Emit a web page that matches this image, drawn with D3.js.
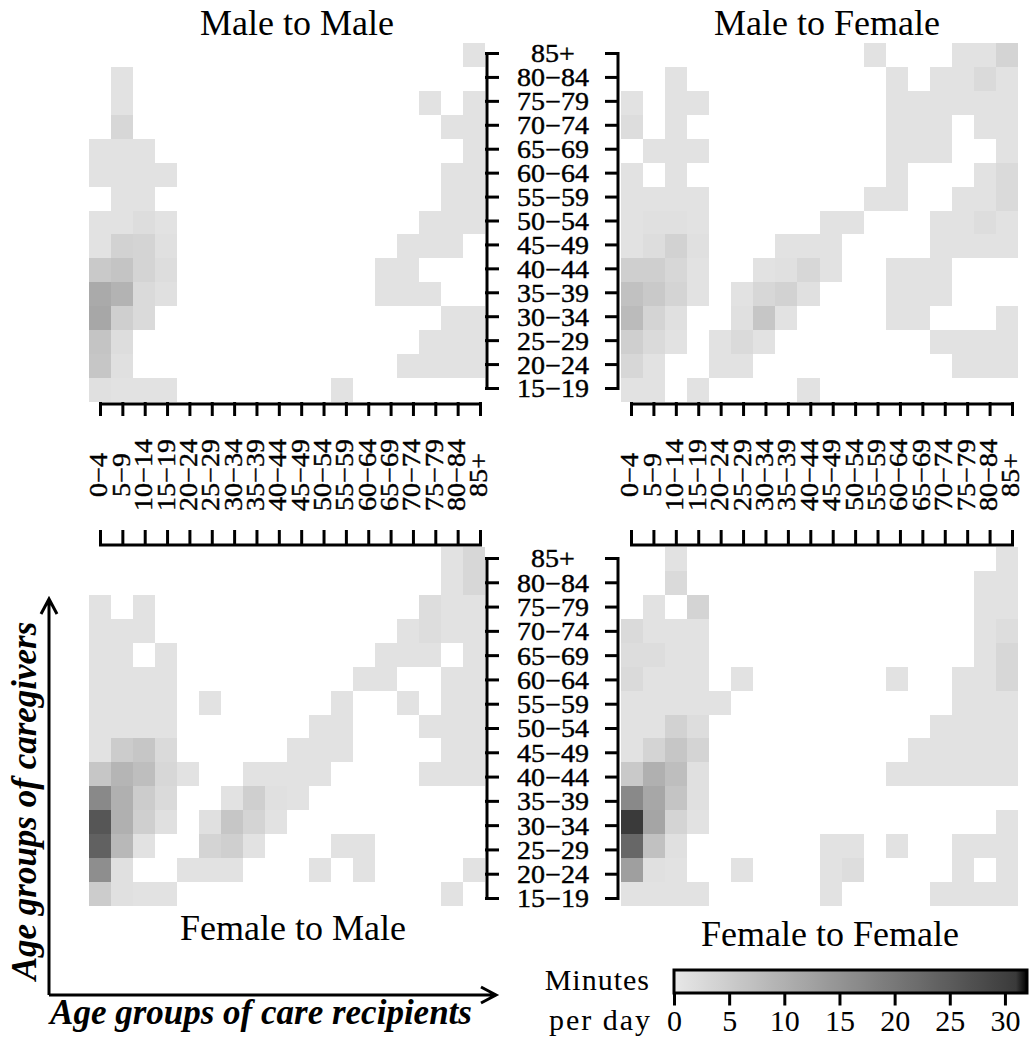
<!DOCTYPE html>
<html>
<head>
<meta charset="utf-8">
<script src="https://cdn.jsdelivr.net/npm/d3@7"></script>
<style>
body { margin:0; background:#fff; }
svg text { font-family: "Liberation Serif", "Times New Roman", serif; }
.axis path, .axis line { stroke:#000; stroke-width:3; stroke-linecap:square; }
.tick-label { stroke:#000; stroke-width:0.4; }
</style>
</head>
<body>
<svg id="chart" width="1030" height="1040"></svg>
<script>
// age groups of care recipients (x) and caregivers (y, top row first)
var recipients = ["0−4","5−9","10−14","15−19","20−24","25−29","30−34","35−39","40−44",
                  "45−49","50−54","55−59","60−64","65−69","70−74","75−79","80−84","85+"];
var caregivers = ["85+","80−84","75−79","70−74","65−69","60−64","55−59","50−54",
                  "45−49","40−44","35−39","30−34","25−29","20−24","15−19"];
var legendTicks = [0,5,10,15,20,25,30];

// minutes per day, rows = caregivers (85+ first), columns = recipients
var maleToMale = [
 [0,0,0,0,0,0,0,0,0,0,0,0,0,0,0,0,0,1],
 [0,1,0,0,0,0,0,0,0,0,0,0,0,0,0,0,0,0],
 [0,1,0,0,0,0,0,0,0,0,0,0,0,0,0,1,0,1],
 [0,3,0,0,0,0,0,0,0,0,0,0,0,0,0,0,1,1],
 [1,1,1,0,0,0,0,0,0,0,0,0,0,0,0,0,0,1],
 [1,1,1,1,0,0,0,0,0,0,0,0,0,0,0,0,1,1],
 [0,1,1,0,0,0,0,0,0,0,0,0,0,0,0,0,1,1],
 [1,1,2,1,0,0,0,0,0,0,0,0,0,0,0,1,1,1],
 [1,4,3.5,1.5,0,0,0,0,0,0,0,0,0,0,1,1,1,0],
 [5.5,6.5,3.5,2,0,0,0,0,0,0,0,0,0,1,1,0,0,0],
 [11,9.5,2.5,1.5,0,0,0,0,0,0,0,0,0,1,1,1,0,0],
 [11.5,4.5,2.5,0,0,0,0,0,0,0,0,0,0,0,0,0,1,1],
 [6.5,2,0,0,0,0,0,0,0,0,0,0,0,0,0,1,1,1],
 [6,1.5,0,0,0,0,0,0,0,0,0,0,0,0,1,1,1,1],
 [1.5,1,1,1,0,0,0,0,0,0,0,1,0,0,0,0,0,0]
];
var maleToFemale = [
 [0,0,0,0,0,0,0,0,0,0,0,1,0,0,0,1,1,3.5],
 [0,0,1,0,0,0,0,0,0,0,0,0,1,0,1,1,2.5,1],
 [1,0,1,1,0,0,0,0,0,0,0,0,1,1,1,1,1,1],
 [2,0,1,0,0,0,0,0,0,0,0,0,1,1,1,0,1,1],
 [0,1,1,1,0,0,0,0,0,0,0,0,1,1,1,0,0,1],
 [1,0,1,0,0,0,0,0,0,0,0,0,1,0,0,0,1,2.5],
 [1,1,1,1,0,0,0,0,0,0,0,1,1,0,0,1,1,2.5],
 [1,1.5,1.5,1,0,0,0,0,0,1,1,0,0,0,1,1,2,1],
 [1,2,4,1.5,0,0,0,1,1,1,0,0,0,0,1,1,1,1],
 [4.5,4.5,3,1,0,0,1,1.5,3,1,0,0,1,1,1,0,0,0],
 [7,5.5,3.5,1,0,1,3,4,1.5,0,0,0,1,1,1,0,0,0],
 [8,3.5,1.5,0,0,1.5,6,1,0,0,0,0,1,1,0,0,0,1],
 [4.5,2.5,1,0,1,2.5,1,0,0,0,0,0,0,0,1,1,1,1],
 [3,1,0,0,1,1,0,0,0,0,0,0,0,0,0,1,1,1],
 [1,1,0,1,0,0,0,0,1,0,0,0,0,0,0,0,0,0]
];
var femaleToMale = [
 [0,0,0,0,0,0,0,0,0,0,0,0,0,0,0,0,1,3],
 [0,0,0,0,0,0,0,0,0,0,0,0,0,0,0,0,1,3],
 [1,0,1,0,0,0,0,0,0,0,0,0,0,0,0,2,1,1],
 [1,1,1,0,0,0,0,0,0,0,0,0,0,0,1,2,1,1],
 [1,1,0,1,0,0,0,0,0,0,0,0,0,1,1,1,0,1],
 [1,1,1,1,0,0,0,0,0,0,0,0,1,1,0,0,1,1],
 [1,1,1,1,0,1,0,0,0,0,0,1,0,0,1,0,1,1],
 [1,1,1,1,0,0,0,0,0,0,1,1,0,0,0,1,1,1],
 [1,5,6,2.5,0,0,0,0,0,1,1,1,0,0,0,0,1,1],
 [6,9,7.5,3,1,0,0,1,1,1,1,0,0,0,0,1,1,1],
 [17,10,5,2.5,0,0,1,4.5,1.5,1,0,0,0,0,0,0,0,0],
 [26,10,4.5,1.5,0,1.5,6,3.5,1,0,0,0,0,0,0,0,0,0],
 [24,8.5,1,0,0,3.5,4.5,1,0,0,0,1,1,0,0,0,0,0],
 [16,1.5,0,0,1,1,1,0,0,0,1,0,1,0,0,0,0,1],
 [5,1.5,1,1,0,0,0,0,0,0,0,0,0,0,0,0,1,0]
];
var femaleToFemale = [
 [0,0,1,0,0,0,0,0,0,0,0,0,0,0,0,0,0,1],
 [0,0,2.5,0,0,0,0,0,0,0,0,0,0,0,0,0,1,1],
 [0,1,0,3.5,0,0,0,0,0,0,0,0,0,0,0,0,1,1],
 [2.5,1,1,1,0,0,0,0,0,0,0,0,0,0,0,0,1,2],
 [2,2,1,1,0,0,0,0,0,0,0,0,0,0,0,0,1,3],
 [2.5,1,1,1,0,1,0,0,0,0,0,0,1,0,0,1,1,3],
 [1,1,1,1,1,0,0,0,0,0,0,0,0,0,0,1,1,1],
 [1,1,4,2,0,0,0,0,0,0,0,0,0,0,1,1,1,1],
 [1,3.5,6,3.5,0,0,0,0,0,0,0,0,0,1,1,1,1,1],
 [5.5,10,7.5,1.5,0,0,0,0,0,0,0,0,1,1,1,1,1,1],
 [17,11.5,6.5,1.5,0,0,0,0,0,0,0,0,0,0,0,0,0,0],
 [31,12,3.5,1,0,0,0,0,0,0,0,0,0,0,0,0,0,1],
 [23,7,1.5,0,0,0,0,0,0,1,1,0,1,0,0,1,1,1],
 [13,1.5,1,0,0,1,0,0,0,1,2,0,0,0,0,1,0,1],
 [1,1,1,1,0,0,0,0,0,1,0,0,0,0,1,1,1,1]
];

var serif = "'Liberation Serif', 'Times New Roman', serif";
var svg = d3.select("#chart");

var color = d3.scaleLinear()
    .domain([0, 31, 32])
    .range(["#e8e8e8", "#3a3a3a", "#000000"]);

// cell scales
var xLeft = d3.scaleBand().domain(recipients).range([89, 485]);
var xRight = d3.scaleBand().domain(recipients).range([621, 1018]);
var yTop = d3.scaleBand().domain(caregivers).range([43, 402]);
var yBottom = d3.scaleBand().domain(caregivers).range([547, 906]);

// tick scales (the axes sit a little off the cells, as in the original)
var xTickLeft = d3.scalePoint().domain(recipients).range([100, 480]);
var xTickRight = d3.scalePoint().domain(recipients).range([631, 1012]);
var yTickTop = d3.scalePoint().domain(caregivers).range([53, 388]);
var yTickBottom = d3.scalePoint().domain(caregivers).range([558, 898]);

var drawPanel = function(values, xScale, yScale)
{
    var cells = [];
    values.forEach(function(row, i) {
        row.forEach(function(v, j) {
            if (v > 0) cells.push({r: caregivers[i], c: recipients[j], v: v});
        });
    });
    svg.append("g")
    .selectAll("rect")
    .data(cells)
    .enter()
    .append("rect")
    .attr("x", function(d) { return xScale(d.c); })
    .attr("y", function(d) { return yScale(d.r); })
    .attr("width", xScale.bandwidth())
    .attr("height", yScale.bandwidth())
    .attr("fill", function(d) { return color(d.v); })
    .attr("shape-rendering", "crispEdges");
}

drawPanel(maleToMale, xLeft, yTop);
drawPanel(maleToFemale, xRight, yTop);
drawPanel(femaleToMale, xLeft, yBottom);
drawPanel(femaleToFemale, xRight, yBottom);

var addAxis = function(axis, x, y)
{
    svg.append("g")
    .classed("axis", true)
    .attr("transform", "translate(" + x + "," + y + ")")
    .call(axis.tickSizeOuter(0).tickFormat(""));
}

addAxis(d3.axisBottom(xTickLeft).tickSize(11), 0, 403.5);
addAxis(d3.axisBottom(xTickRight).tickSize(11), 0, 403.5);
addAxis(d3.axisTop(xTickLeft).tickSize(13), 0, 544.5);
addAxis(d3.axisTop(xTickRight).tickSize(13), 0, 544.5);
addAxis(d3.axisRight(yTickTop).tickSize(11), 486.5, 0);
addAxis(d3.axisLeft(yTickTop).tickSize(11), 617.5, 0);
addAxis(d3.axisRight(yTickBottom).tickSize(11), 486.5, 0);
addAxis(d3.axisLeft(yTickBottom).tickSize(11), 617.5, 0);

// shared tick labels in the middle strips
[xTickLeft, xTickRight].forEach(function(sc) {
    svg.append("g")
    .selectAll("text")
    .data(recipients)
    .enter()
    .append("text")
    .classed("tick-label", true)
    .text(function(d) { return d; })
    .attr("transform", function(d) {
        return "translate(" + (sc(d) - 1) + ",475) rotate(-90) scale(1.12,1)";
    })
    .attr("text-anchor", "middle")
    .attr("dominant-baseline", "central")
    .attr("font-family", serif)
    .attr("font-size", 25);
});

[yTickTop, yTickBottom].forEach(function(sc) {
    svg.append("g")
    .selectAll("text")
    .data(caregivers)
    .enter()
    .append("text")
    .classed("tick-label", true)
    .text(function(d) { return d; })
    .attr("transform", function(d) {
        return "translate(553," + (sc(d) + 1) + ") scale(1.12,1)";
    })
    .attr("text-anchor", "middle")
    .attr("dominant-baseline", "central")
    .attr("font-family", serif)
    .attr("font-size", 25);
});

// panel titles
var titles = [
    {t: "Male to Male", x: 297, y: 35},
    {t: "Male to Female", x: 827, y: 35},
    {t: "Female to Male", x: 293, y: 940},
    {t: "Female to Female", x: 830, y: 946}
];
svg.append("g")
.selectAll("text")
.data(titles)
.enter()
.append("text")
.text(function(d) { return d.t; })
.attr("x", function(d) { return d.x; })
.attr("y", function(d) { return d.y; })
.attr("text-anchor", "middle")
.attr("font-family", serif)
.attr("font-size", 36);

// corner arrows with axis names
var arrows = svg.append("g")
    .attr("fill", "none")
    .attr("stroke", "#000")
    .attr("stroke-width", 3);
arrows.append("path").attr("d", "M49,995V599M41,614L49,599L57,614");
arrows.append("path").attr("d", "M49,995H496M481,987L496,995L481,1003");

svg.append("text")
.text("Age groups of caregivers")
.attr("transform", "translate(36,801) rotate(-90)")
.attr("text-anchor", "middle")
.attr("font-family", serif)
.attr("font-size", 35)
.attr("font-weight", "bold")
.attr("font-style", "italic");

svg.append("text")
.text("Age groups of care recipients")
.attr("x", 261)
.attr("y", 1024)
.attr("text-anchor", "middle")
.attr("font-family", serif)
.attr("font-size", 35)
.attr("font-weight", "bold")
.attr("font-style", "italic");

// colour bar
var legendScale = d3.scaleLinear().domain([0, 32]).range([674, 1027]);

var grad = svg.append("defs")
    .append("linearGradient")
    .attr("id", "grad");
grad.selectAll("stop")
.data(d3.range(0, 33))
.enter()
.append("stop")
.attr("offset", function(d) { return d / 32; })
.attr("stop-color", function(d) { return color(d); });

svg.append("rect")
.attr("x", legendScale(0))
.attr("y", 970)
.attr("width", legendScale(32) - legendScale(0))
.attr("height", 23)
.attr("fill", "url(#grad)")
.attr("stroke", "#000")
.attr("stroke-width", 3);

var legendAxis = svg.append("g")
    .classed("axis", true)
    .attr("transform", "translate(0,994)")
    .call(d3.axisBottom(legendScale).tickValues(legendTicks).tickSize(10).tickPadding(6));
legendAxis.select(".domain").remove();
legendAxis.selectAll("text")
.attr("font-size", 30)
.attr("font-family", serif)
.attr("fill", "#000");

svg.append("text")
.text("Minutes")
.attr("x", 650)
.attr("y", 990)
.attr("text-anchor", "end")
.attr("font-family", serif)
.attr("font-size", 30)
.attr("letter-spacing", 1);

svg.append("text")
.text("per day")
.attr("x", 652)
.attr("y", 1030)
.attr("text-anchor", "end")
.attr("font-family", serif)
.attr("font-size", 30)
.attr("letter-spacing", 2);
</script>
</body>
</html>
